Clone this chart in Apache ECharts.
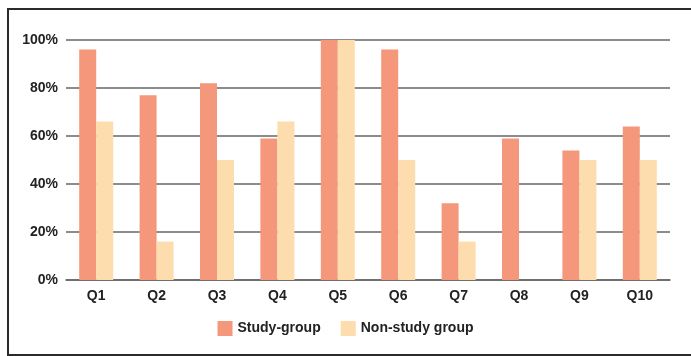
<!DOCTYPE html>
<html>
<head>
<meta charset="utf-8">
<script src="https://cdn.jsdelivr.net/npm/echarts@6/dist/echarts.min.js"></script>
<style>
    html, body { margin: 0; padding: 0; background: #fff; }
    #frame { position: absolute; left: 7px; top: 8px; width: 700px; height: 344px; border: 2px solid #2b2b2b; }
    #chart { position: absolute; left: 0; top: 0; width: 691px; height: 356px; }
</style>
</head>
<body>
<div id="frame"></div>
<div id="chart"></div>
<script>
var categories = ['Q1', 'Q2', 'Q3', 'Q4', 'Q5', 'Q6', 'Q7', 'Q8', 'Q9', 'Q10'];
var studyGroup = [96, 77, 82, 59, 100, 96, 32, 59, 54, 64];
var nonStudyGroup = [66, 16, 50, 66, 100, 50, 16, 0, 50, 50];
var yTicks = ['0%', '20%', '40%', '60%', '80%', '100%'];

var chart = echarts.init(document.getElementById('chart'));
var option = {
    animation: false,
    color: ['#F5977A', '#FDDCAE'],
    grid: { left: 66, right: 21, top: 40, bottom: 76, containLabel: false },
    legend: {
        bottom: 15,
        left: 'center',
        itemWidth: 15,
        itemHeight: 15,
        itemGap: 20,
        icon: 'rect',
        textStyle: { fontFamily: 'Liberation Sans', fontWeight: 'bold', fontSize: 14, color: '#222' }
    },
    xAxis: {
        type: 'category',
        data: categories,
        axisLine: { lineStyle: { color: '#666', width: 1.5 } },
        axisTick: { show: false },
        axisLabel: { fontFamily: 'Liberation Sans', fontWeight: 'bold', fontSize: 14, color: '#222', margin: 9 }
    },
    yAxis: {
        type: 'value',
        min: 0,
        max: 100,
        interval: 20,
        axisLine: { show: false },
        axisTick: { show: false },
        splitLine: { lineStyle: { color: '#666', width: 1.5 } },
        axisLabel: {
            fontFamily: 'Liberation Sans', fontWeight: 'bold', fontSize: 14, color: '#222', margin: 8,
            formatter: function (v) { return yTicks[v / 20]; }
        }
    },
    series: [
        { name: 'Study-group', type: 'bar', data: studyGroup, barWidth: 17, barGap: '0%' },
        { name: 'Non-study group', type: 'bar', data: nonStudyGroup, barWidth: 17 }
    ]
};
chart.setOption(option);
</script>
</body>
</html>
